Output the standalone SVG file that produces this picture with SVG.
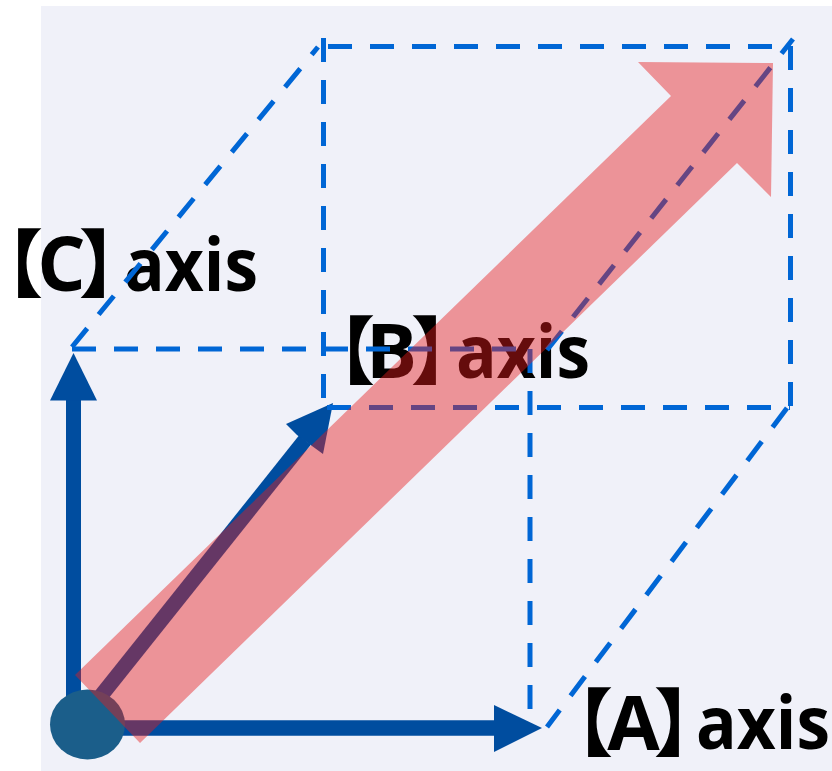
<svg xmlns="http://www.w3.org/2000/svg" width="832" height="771" viewBox="0 0 832 771">
<style>
.dash{fill:none;stroke:#0066d5;stroke-width:5;stroke-dasharray:24 18}
.ax{fill:#004d9f}
.axl{stroke:#004d9f;fill:none}
.lbl{font-family:"Open Sans","Noto Sans",sans-serif;font-weight:700;fill:#000;text-anchor:middle}
.br{font-family:"Noto Sans CJK SC","Noto Sans CJK JP",sans-serif;font-weight:700;fill:#000;text-anchor:middle;font-feature-settings:"palt"}
</style>
<rect id="background" x="0" y="0" width="832" height="771" fill="#ffffff"/>
<rect x="41" y="6" width="791" height="765" fill="#f0f1f9"/>
<g id="label-c">
<text class="br" x="23" y="291" font-size="74">【</text>
<text class="lbl" x="61.5" y="291" font-size="76">C</text>
<text class="br" x="99" y="291" font-size="74">】</text>
<text class="lbl" x="191" y="291" font-size="74" textLength="134" lengthAdjust="spacingAndGlyphs">axis</text>
</g>
<g id="label-b">
<text class="br" x="355" y="378" font-size="74">【</text>
<text class="lbl" x="391.5" y="378" font-size="76">B</text>
<text class="br" x="431" y="378" font-size="74">】</text>
<text class="lbl" x="523" y="378" font-size="74" textLength="134" lengthAdjust="spacingAndGlyphs">axis</text>
</g>
<g id="label-a">
<text class="br" x="593" y="750" font-size="74">【</text>
<text class="lbl" x="633.5" y="750" font-size="76">A</text>
<text class="br" x="674" y="750" font-size="74">】</text>
<text class="lbl" x="763" y="749" font-size="74" textLength="134" lengthAdjust="spacingAndGlyphs">axis</text>
</g>
<g id="axis-c">
<line class="axl" x1="73.5" y1="724" x2="73.5" y2="398" stroke-width="15"/>
<polygon class="ax" points="73.5,353 50,400.5 97,400.5"/>
</g>
<g id="axis-a">
<line class="axl" x1="87" y1="728" x2="496" y2="728" stroke-width="15.5"/>
<polygon class="ax" points="542,728 494,705 494,752"/>
</g>
<g id="axis-b">
<line class="axl" x1="100" y1="697" x2="305" y2="440" stroke-width="15"/>
<polygon class="ax" points="333,403 286,424 297,435 312,446 323,454"/>
</g>
<g id="connectors">
<path class="dash" d="M323.5,38 V407"/>
<path class="dash" d="M328,46.5 H790.5"/>
<path class="dash" d="M790.5,46 V407"/>
<path class="dash" d="M327,407.5 H790"/>
<path class="dash" d="M72,349 H530"/>
<path class="dash" d="M530,349 V713"/>
<path class="dash" d="M72,347 L318,47"/>
<path class="dash" d="M547,350 L793,39"/>
<path class="dash" d="M787,408 L547,727"/>
</g>
<g id="origin">
<ellipse cx="87.5" cy="724.5" rx="37.5" ry="35" fill="#1b5e8a"/>
</g>
<g id="resultant">
<polygon points="75,675 671,96 638,62 773,63 771,197 737,163 140,743" fill="#e61b1b" fill-opacity="0.44"/>
</g>
</svg>
